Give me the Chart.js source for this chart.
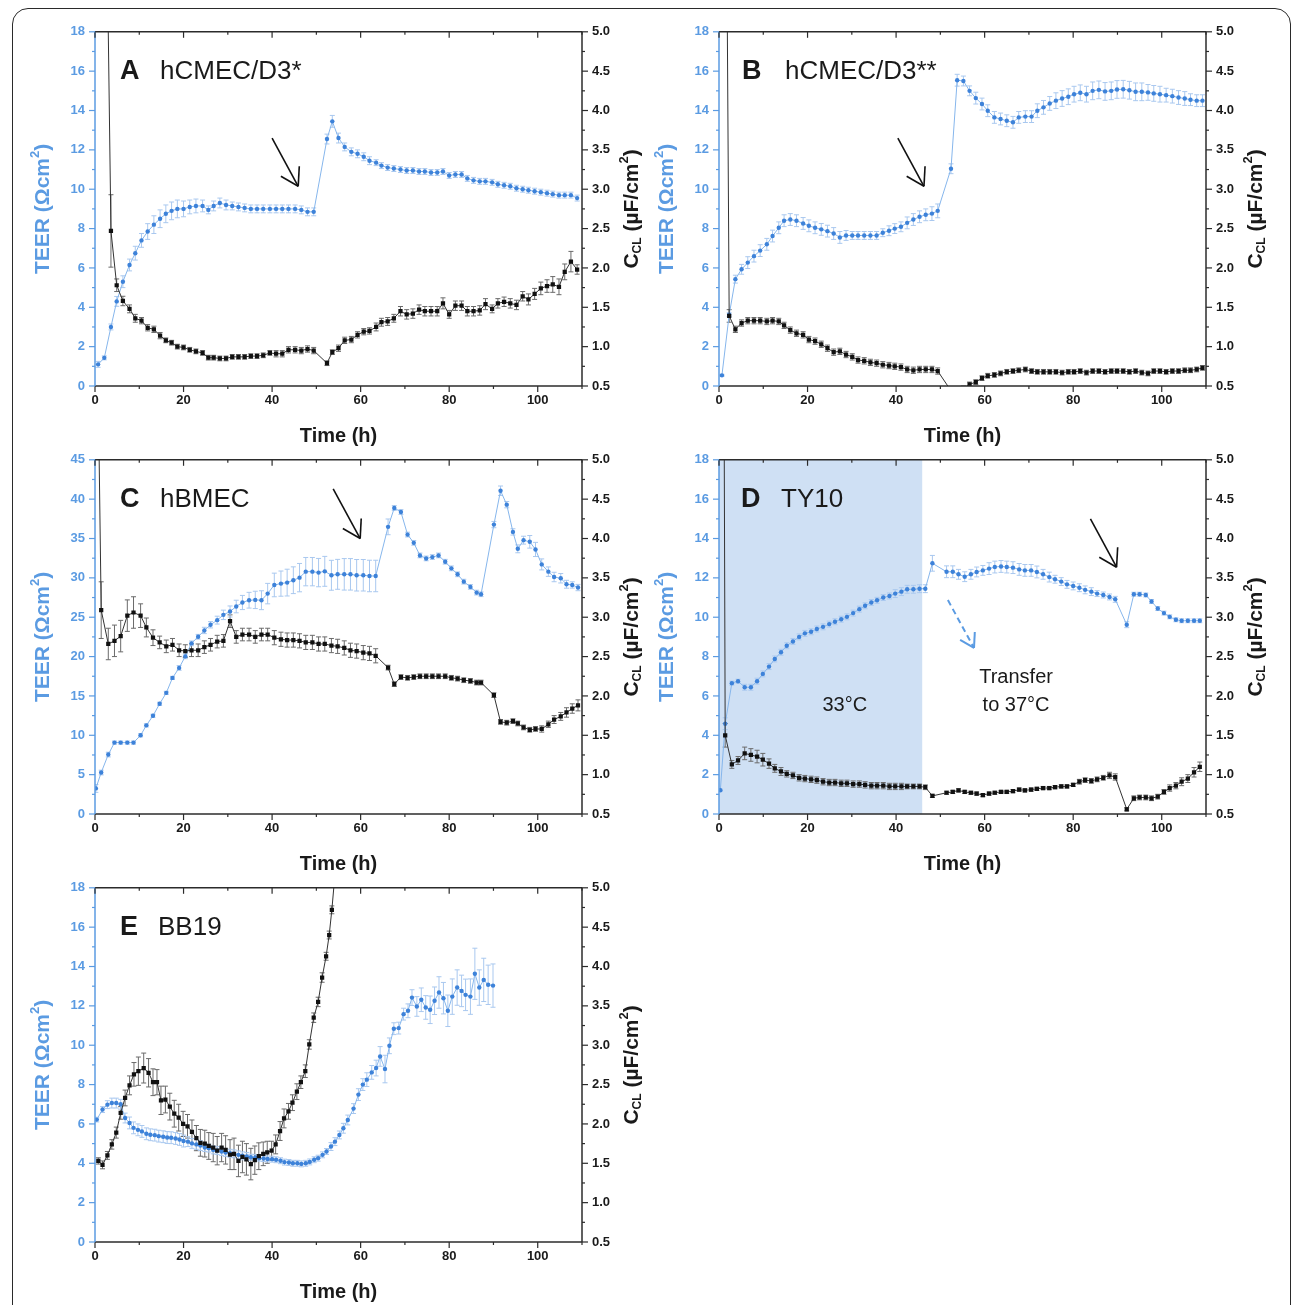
<!DOCTYPE html>
<html>
<head>
<meta charset="utf-8">
<script src="https://cdn.jsdelivr.net/npm/chart.js@4.4.1/dist/chart.umd.min.js"></script>
<style>
  html, body { margin: 0; padding: 0; background: #fff; }
  #fig { position: relative; width: 1293px; height: 1305px; overflow: hidden; background: #fff; }
  #frame { position: absolute; left: 12px; top: 8px; width: 1279px; height: 1340px;
           border: 1.6px solid #2a2a2a; border-radius: 16px; box-sizing: border-box; }
  canvas { position: absolute; }
</style>
</head>
<body>
<div id="fig">
  <div id="frame"></div>
  <canvas id="cA" width="637" height="436" style="left:15px;top:20px"></canvas>
  <canvas id="cB" width="637" height="436" style="left:639px;top:20px"></canvas>
  <canvas id="cC" width="637" height="436" style="left:15px;top:448px"></canvas>
  <canvas id="cD" width="637" height="436" style="left:639px;top:448px"></canvas>
  <canvas id="cE" width="637" height="436" style="left:15px;top:876px"></canvas>
</div>
<script>
// --- Data ---
// Panel A: hCMEC/D3*
const tA = [0.7,2.1,3.6,4.9,6.3,7.8,9.1,10.5,11.9,13.3,
  14.7,16.0,17.3,18.6,20.0,21.4,22.8,24.3,25.6,26.8,
  28.2,29.6,31.0,32.4,33.8,35.2,36.6,38.0,39.5,40.9,
  42.3,43.7,45.2,46.6,48.0,49.4,52.4,53.6,55.0,56.4,
  57.9,59.3,60.7,62.0,63.5,64.7,66.1,67.5,69.0,70.4,
  71.8,73.2,74.5,75.9,77.3,78.6,80.0,81.4,82.8,84.1,
  85.5,86.9,88.2,89.7,91.0,92.4,93.8,95.2,96.6,97.9,
  99.3,100.7,102.1,103.4,104.8,106.1,107.5,108.9];
const teerA = [1.1,1.43,3.0,4.3,5.3,6.15,6.75,7.4,7.85,8.2,
  8.5,8.75,8.9,9.0,9.0,9.1,9.15,9.15,8.95,9.15,
  9.3,9.2,9.15,9.1,9.05,9.0,9.0,9.0,9.0,9.0,
  9.0,9.0,9.0,8.95,8.85,8.85,12.55,13.45,12.6,12.15,
  11.9,11.8,11.65,11.45,11.35,11.2,11.1,11.05,11.0,10.95,
  10.95,10.9,10.9,10.85,10.85,10.9,10.7,10.75,10.75,10.55,
  10.45,10.4,10.4,10.35,10.25,10.2,10.15,10.05,10.0,9.95,
  9.9,9.85,9.8,9.75,9.7,9.7,9.7,9.55];
const teerErrA = [0.15,0.1,0.15,0.25,0.3,0.3,0.35,0.35,0.4,0.45,
  0.45,0.45,0.45,0.45,0.4,0.35,0.35,0.3,0.2,0.25,
  0.25,0.25,0.2,0.2,0.2,0.2,0.2,0.2,0.2,0.2,
  0.2,0.2,0.2,0.2,0.2,0.2,0.25,0.3,0.25,0.2,
  0.2,0.2,0.2,0.2,0.15,0.15,0.15,0.15,0.15,0.15,
  0.15,0.15,0.15,0.15,0.15,0.15,0.15,0.15,0.15,0.15,
  0.15,0.15,0.15,0.15,0.15,0.15,0.15,0.15,0.15,0.15,
  0.15,0.15,0.15,0.15,0.15,0.15,0.15,0.15];
const cclA = [25,8.8,2.47,1.78,1.58,1.48,1.36,1.33,1.24,1.22,
  1.14,1.08,1.05,1.0,0.99,0.96,0.94,0.92,0.86,0.86,
  0.85,0.85,0.87,0.87,0.87,0.88,0.88,0.89,0.92,0.91,
  0.91,0.96,0.96,0.95,0.97,0.95,0.79,0.93,0.98,1.08,
  1.09,1.15,1.19,1.2,1.25,1.31,1.32,1.36,1.45,1.41,
  1.42,1.47,1.45,1.45,1.45,1.55,1.41,1.52,1.52,1.45,
  1.45,1.46,1.54,1.48,1.55,1.57,1.55,1.53,1.64,1.6,
  1.67,1.74,1.77,1.79,1.76,1.95,2.08,1.98];
const cclErrA = [0,0,0.46,0.08,0.06,0.05,0.05,0.04,0.04,0.04,
  0.04,0.03,0.03,0.03,0.03,0.03,0.03,0.03,0.03,0.03,
  0.03,0.03,0.03,0.03,0.03,0.03,0.03,0.03,0.03,0.04,
  0.04,0.04,0.04,0.04,0.04,0.04,0.03,0.03,0.04,0.04,
  0.04,0.04,0.04,0.04,0.05,0.05,0.05,0.05,0.06,0.06,
  0.06,0.06,0.06,0.06,0.06,0.07,0.05,0.06,0.06,0.06,
  0.06,0.06,0.07,0.05,0.06,0.06,0.06,0.06,0.06,0.07,
  0.07,0.08,0.08,0.1,0.1,0.1,0.13,0.06];

// Panel B: hCMEC/D3**
const tB = [0.66,2.3,3.7,5.1,6.5,7.9,9.3,10.8,12.1,13.5,
  14.7,16.1,17.5,19.0,20.3,21.7,23.1,24.5,25.9,27.3,
  28.7,30.1,31.4,32.8,34.2,35.6,37.0,38.4,39.7,41.1,
  42.5,43.9,45.3,46.7,48.1,49.4,52.4,53.8,55.2,56.6,
  58.0,59.4,60.7,62.2,63.6,65.0,66.4,67.7,69.2,70.6,
  71.9,73.3,74.7,76.1,77.5,78.9,80.2,81.6,83.0,84.4,
  85.8,87.2,88.6,89.9,91.3,92.7,94.1,95.5,96.9,98.2,
  99.6,101.0,102.4,103.8,105.2,106.5,107.9,109.2];
const teerB = [0.54,3.62,5.43,5.93,6.27,6.6,6.88,7.2,7.62,8.04,
  8.4,8.46,8.4,8.26,8.14,8.04,7.96,7.87,7.75,7.55,
  7.65,7.65,7.65,7.65,7.65,7.65,7.79,7.89,8.0,8.09,
  8.29,8.46,8.6,8.7,8.76,8.9,11.04,15.54,15.5,15.0,
  14.63,14.33,13.99,13.65,13.57,13.48,13.4,13.65,13.69,13.69,
  13.99,14.16,14.36,14.5,14.61,14.7,14.83,14.9,14.83,15.0,
  15.05,14.97,15.0,15.07,15.08,15.03,14.95,14.95,14.92,14.87,
  14.83,14.78,14.73,14.66,14.61,14.55,14.5,14.5];
const teerErrB = [0.05,0.1,0.2,0.25,0.3,0.3,0.3,0.3,0.3,0.3,
  0.3,0.3,0.3,0.3,0.3,0.3,0.3,0.3,0.3,0.3,
  0.25,0.2,0.2,0.2,0.2,0.2,0.2,0.25,0.25,0.25,
  0.3,0.3,0.3,0.3,0.35,0.35,0.25,0.3,0.25,0.25,
  0.3,0.3,0.3,0.3,0.3,0.3,0.3,0.3,0.3,0.3,
  0.35,0.35,0.35,0.4,0.4,0.4,0.4,0.4,0.4,0.45,
  0.45,0.45,0.45,0.45,0.45,0.45,0.45,0.45,0.4,0.4,
  0.4,0.35,0.35,0.35,0.35,0.3,0.3,0.3];
const cclB = [15.8,1.39,1.22,1.30,1.33,1.33,1.33,1.32,1.33,1.32,
  1.27,1.21,1.17,1.15,1.09,1.07,1.03,0.98,0.93,0.94,
  0.9,0.87,0.83,0.82,0.8,0.79,0.77,0.76,0.75,0.74,
  0.71,0.70,0.71,0.71,0.71,0.69,0.44,0.42,0.47,0.52,
  0.55,0.6,0.63,0.64,0.66,0.68,0.69,0.7,0.71,0.69,
  0.68,0.68,0.68,0.68,0.67,0.68,0.68,0.69,0.67,0.69,
  0.69,0.68,0.69,0.69,0.69,0.68,0.69,0.67,0.66,0.69,
  0.69,0.68,0.69,0.69,0.7,0.7,0.71,0.73];
const cclErrB = [0,0.08,0.04,0.04,0.04,0.04,0.04,0.04,0.04,0.04,
  0.04,0.04,0.04,0.04,0.04,0.04,0.04,0.04,0.04,0.04,
  0.04,0.04,0.04,0.04,0.04,0.04,0.04,0.04,0.04,0.04,
  0.04,0.04,0.04,0.04,0.04,0.04,0.03,0.03,0.03,0.03,
  0.03,0.03,0.03,0.03,0.03,0.03,0.03,0.03,0.03,0.03,
  0.03,0.03,0.03,0.03,0.03,0.03,0.03,0.03,0.03,0.03,
  0.03,0.03,0.03,0.03,0.03,0.03,0.03,0.03,0.03,0.03,
  0.03,0.03,0.03,0.03,0.03,0.03,0.03,0.03];

// Panel C: hBMEC
const tC = [0.2,1.4,3.0,4.4,5.8,7.3,8.7,10.3,11.6,13.1,
  14.6,16.1,17.5,19.0,20.4,21.8,23.3,24.7,26.1,27.6,
  29.0,30.5,31.9,33.3,34.8,36.2,37.6,39.0,40.5,42.0,
  43.4,44.8,46.2,47.6,49.1,50.5,51.9,53.4,54.8,56.3,
  57.7,59.1,60.6,62.0,63.4,66.2,67.6,69.1,70.6,72.0,
  73.4,74.8,76.2,77.6,79.1,80.5,81.9,83.3,84.8,86.2,
  87.2,90.1,91.6,93.0,94.4,95.5,96.8,98.2,99.5,100.9,
  102.4,103.7,105.2,106.5,107.8,109.1];
const teerC = [3.25,5.27,7.55,9.07,9.07,9.07,9.07,10.0,11.26,12.48,
  14.0,15.39,17.29,18.56,20.03,21.68,22.52,23.32,24.04,24.63,
  25.3,25.73,26.36,26.87,27.16,27.2,27.16,28.0,29.1,29.27,
  29.4,29.7,30.03,30.79,30.79,30.67,30.83,30.33,30.45,30.45,
  30.45,30.33,30.33,30.24,30.24,36.48,38.88,38.37,35.5,34.45,
  32.85,32.47,32.64,32.85,32.05,31.21,30.45,29.52,28.85,28.13,
  27.92,36.77,41.07,39.3,35.84,33.69,34.79,34.58,33.61,31.71,
  30.79,30.11,29.95,29.19,29.1,28.77];
const teerErrC = [0.5,0.3,0.3,0.2,0.2,0.2,0.2,0.2,0.2,0.2,
  0.2,0.2,0.2,0.3,0.3,0.3,0.3,0.4,0.4,0.5,
  0.6,0.7,0.8,0.9,1.0,1.1,1.2,1.3,1.5,1.6,
  1.7,1.7,1.8,1.8,1.8,1.8,1.9,1.9,1.9,2.0,
  2.0,2.0,2.0,2.0,2.0,1.0,0.3,0.3,0.3,0.3,
  0.3,0.3,0.3,0.3,0.3,0.3,0.3,0.3,0.3,0.3,
  0.3,0.4,0.6,0.4,0.4,0.5,0.5,0.8,0.9,0.7,
  0.6,0.6,0.6,0.5,0.4,0.4];
const cclC = [8.1,3.09,2.66,2.7,2.76,3.02,3.06,3.02,2.87,2.74,
  2.68,2.63,2.65,2.58,2.57,2.58,2.58,2.62,2.65,2.69,
  2.70,2.95,2.75,2.78,2.78,2.75,2.78,2.78,2.74,2.72,
  2.71,2.71,2.70,2.68,2.68,2.66,2.66,2.64,2.63,2.61,
  2.58,2.57,2.55,2.54,2.51,2.36,2.15,2.24,2.23,2.24,
  2.25,2.25,2.25,2.25,2.25,2.23,2.22,2.2,2.19,2.17,
  2.17,2.01,1.67,1.66,1.68,1.65,1.6,1.57,1.58,1.58,
  1.64,1.7,1.74,1.79,1.84,1.88];
const cclErrC = [0,0.36,0.2,0.2,0.2,0.2,0.2,0.15,0.12,0.1,
  0.08,0.08,0.08,0.08,0.08,0.08,0.08,0.08,0.08,0.08,
  0.08,0.08,0.08,0.08,0.08,0.08,0.08,0.08,0.09,0.09,
  0.09,0.09,0.09,0.09,0.09,0.09,0.09,0.09,0.09,0.09,
  0.09,0.09,0.09,0.09,0.09,0.03,0.03,0.03,0.03,0.03,
  0.03,0.03,0.03,0.03,0.03,0.03,0.03,0.03,0.03,0.03,
  0.03,0.03,0.03,0.03,0.03,0.03,0.03,0.03,0.03,0.04,
  0.04,0.05,0.05,0.06,0.06,0.07];

// Panel D: TY10
const tD = [0.3,1.4,2.9,4.3,5.8,7.2,8.6,9.9,11.3,12.6,
  14.0,15.3,16.7,18.1,19.4,20.8,22.1,23.5,24.9,26.2,
  27.6,28.9,30.3,31.7,33.0,34.4,35.7,37.1,38.5,39.8,
  41.2,42.5,43.9,45.3,46.6,48.2,51.4,52.8,54.1,55.5,
  56.9,58.2,59.6,61.0,62.3,63.7,65.0,66.4,67.8,69.1,
  70.5,71.8,73.2,74.6,75.9,77.3,78.6,80.0,81.4,82.7,
  84.1,85.4,86.8,88.2,89.5,92.1,93.7,95.0,96.4,97.7,
  99.1,100.5,101.8,103.2,104.5,105.9,107.3,108.6];
const teerD = [1.21,4.59,6.65,6.75,6.44,6.44,6.75,7.12,7.49,7.88,
  8.22,8.55,8.77,9.0,9.18,9.26,9.4,9.51,9.65,9.77,
  9.9,10.02,10.21,10.41,10.58,10.75,10.86,11.0,11.08,11.2,
  11.3,11.42,11.42,11.45,11.45,12.74,12.31,12.31,12.18,12.06,
  12.18,12.3,12.38,12.47,12.55,12.58,12.55,12.52,12.43,12.38,
  12.38,12.3,12.18,12.04,11.93,11.81,11.67,11.59,11.5,11.39,
  11.3,11.2,11.13,11.03,10.91,9.62,11.17,11.17,11.13,10.8,
  10.44,10.21,10.02,9.87,9.82,9.82,9.82,9.82];
const teerErrD = [0.05,0.3,0.1,0.1,0.15,0.15,0.15,0.15,0.15,0.15,
  0.15,0.15,0.15,0.15,0.15,0.15,0.15,0.15,0.15,0.15,
  0.15,0.15,0.15,0.15,0.15,0.15,0.15,0.15,0.15,0.2,
  0.2,0.2,0.2,0.2,0.2,0.4,0.3,0.3,0.25,0.25,
  0.25,0.25,0.25,0.3,0.3,0.3,0.3,0.3,0.3,0.3,
  0.3,0.3,0.25,0.25,0.2,0.2,0.2,0.2,0.2,0.2,
  0.2,0.15,0.15,0.15,0.15,0.15,0.1,0.1,0.1,0.1,
  0.1,0.1,0.1,0.1,0.1,0.1,0.1,0.1];
const cclD = [20,1.5,1.13,1.18,1.27,1.25,1.23,1.19,1.14,1.08,
  1.04,1.01,0.99,0.96,0.95,0.94,0.93,0.91,0.9,0.9,
  0.89,0.89,0.88,0.88,0.87,0.86,0.86,0.86,0.85,0.85,
  0.85,0.85,0.85,0.85,0.84,0.73,0.77,0.78,0.8,0.78,
  0.77,0.76,0.74,0.76,0.77,0.78,0.78,0.79,0.81,0.8,
  0.81,0.82,0.83,0.83,0.84,0.85,0.85,0.87,0.91,0.93,
  0.92,0.94,0.96,0.99,0.97,0.56,0.7,0.71,0.71,0.7,
  0.72,0.78,0.83,0.86,0.91,0.95,1.03,1.1];
const cclErrD = [0,0.15,0.05,0.05,0.08,0.08,0.08,0.08,0.06,0.05,
  0.05,0.04,0.04,0.04,0.04,0.04,0.04,0.04,0.04,0.04,
  0.04,0.04,0.04,0.04,0.04,0.04,0.04,0.04,0.04,0.04,
  0.04,0.03,0.03,0.03,0.03,0.02,0.02,0.02,0.02,0.02,
  0.02,0.02,0.02,0.02,0.02,0.02,0.02,0.02,0.02,0.02,
  0.02,0.02,0.02,0.02,0.02,0.02,0.02,0.02,0.03,0.03,
  0.03,0.03,0.03,0.04,0.04,0.02,0.03,0.03,0.03,0.03,
  0.03,0.03,0.04,0.04,0.05,0.05,0.06,0.06];

// Panel E: BB19
const tE = [0.4,1.7,2.8,3.8,4.8,5.8,6.8,7.8,8.7,9.7,
  10.6,11.6,12.5,13.5,14.4,15.4,16.3,17.2,18.2,19.1,
  20.0,21.0,21.9,22.9,23.8,24.8,25.7,26.7,27.6,28.6,
  29.5,30.5,31.4,32.4,33.3,34.3,35.2,36.2,37.1,38.1,
  39.0,40.0,40.9,41.9,42.8,43.8,44.7,45.7,46.6,47.6,
  48.5,49.5,50.4,51.4,52.3,53.3,54.2,55.2,56.1,57.1,
  58.4,59.5,60.5,61.4,62.5,63.5,64.4,65.5,66.5,67.5,
  68.6,69.7,70.7,71.6,72.7,73.7,74.7,75.7,76.7,77.7,
  78.7,79.7,80.7,81.8,82.8,83.7,84.8,85.8,86.8,87.8,
  88.8,89.9];
const teerE = [6.22,6.73,6.98,7.06,7.06,7.0,6.3,6.05,5.8,5.7,
  5.62,5.5,5.45,5.43,5.38,5.35,5.31,5.3,5.26,5.21,
  5.13,5.1,5.01,4.96,4.9,4.8,4.77,4.68,4.65,4.6,
  4.55,4.51,4.48,4.43,4.38,4.35,4.31,4.3,4.26,4.24,
  4.22,4.21,4.18,4.13,4.06,4.04,4.0,4.0,3.97,4.0,
  4.07,4.18,4.26,4.43,4.6,4.85,5.1,5.44,5.78,6.2,
  6.78,7.49,8.0,8.25,8.62,8.84,9.43,8.79,9.97,10.84,
  10.87,11.58,11.75,12.42,11.97,12.31,11.92,11.8,12.26,12.68,
  12.39,11.75,12.47,12.93,12.76,12.56,12.47,13.63,12.93,13.32,
  13.07,13.03];
const teerErrE = [0.12,0.15,0.2,0.25,0.25,0.25,0.25,0.3,0.3,0.3,
  0.3,0.3,0.3,0.3,0.3,0.3,0.3,0.3,0.3,0.3,
  0.3,0.25,0.25,0.25,0.25,0.2,0.2,0.2,0.2,0.2,
  0.2,0.2,0.2,0.2,0.2,0.2,0.15,0.15,0.15,0.15,
  0.15,0.15,0.15,0.15,0.15,0.15,0.15,0.15,0.15,0.15,
  0.15,0.15,0.15,0.15,0.15,0.2,0.2,0.2,0.25,0.25,
  0.25,0.3,0.3,0.35,0.35,0.4,0.5,0.7,0.4,0.3,
  0.3,0.3,0.35,0.4,0.5,0.6,0.6,0.7,0.7,0.8,
  0.8,0.8,0.9,0.9,0.8,0.8,0.9,1.3,0.9,1.1,
  1.0,1.1];
const tEc = [0.75,1.7,2.8,3.8,4.8,5.8,6.8,7.8,8.8,9.8,
  11.0,12.1,13.1,14.0,14.9,15.9,16.9,17.9,18.9,19.9,
  20.9,21.9,22.9,23.8,24.8,25.7,26.7,27.6,28.6,29.5,
  30.5,31.4,32.4,33.3,34.2,35.2,36.1,37.0,38.0,38.9,
  39.9,40.8,41.8,42.7,43.7,44.6,45.6,46.5,47.5,48.4,
  49.4,50.4,51.3,52.2,52.9,53.5,54.4];
const cclE = [1.53,1.48,1.6,1.74,1.89,2.14,2.33,2.49,2.63,2.67,
  2.71,2.65,2.53,2.53,2.30,2.31,2.22,2.13,2.08,2.0,
  1.97,1.9,1.82,1.76,1.75,1.72,1.7,1.66,1.7,1.67,
  1.61,1.62,1.53,1.58,1.55,1.49,1.54,1.59,1.62,1.64,
  1.66,1.74,1.91,2.07,2.16,2.27,2.41,2.53,2.67,3.01,
  3.35,3.55,3.86,4.13,4.4,4.72,5.3];
const cclErrE = [0.04,0.05,0.05,0.06,0.07,0.08,0.1,0.12,0.15,0.18,
  0.19,0.18,0.17,0.16,0.18,0.17,0.17,0.17,0.17,0.16,
  0.15,0.15,0.16,0.17,0.17,0.17,0.18,0.18,0.18,0.18,
  0.19,0.2,0.2,0.2,0.2,0.2,0.18,0.17,0.15,0.14,
  0.12,0.12,0.12,0.12,0.1,0.1,0.1,0.08,0.08,0.06,
  0.06,0.06,0.06,0.05,0.05,0.05,0.05];

// --- Styling ---
const FONT = "'Liberation Sans', Arial, sans-serif";
const BLUE_TXT = '#5b9be2';
const BLUE_PT = '#3d82d9';
const BLUE_LINE = '#86b6ec';
const BLUE_ERR = '#a9c8ef';
const INK = '#1a1a1a';

function series(ts, vs) { return ts.map((t, i) => ({ x: t, y: vs[i] })); }

function line(ctx, x1, y1, x2, y2) {
  ctx.beginPath(); ctx.moveTo(x1, y1); ctx.lineTo(x2, y2); ctx.stroke();
}

// text made of pieces (sub/superscripts), centred on (cx, cy)
function drawRich(ctx, parts, cx, cy, angle, color) {
  ctx.save();
  ctx.translate(cx, cy);
  ctx.rotate(angle);
  ctx.fillStyle = color;
  ctx.textBaseline = 'middle';
  ctx.textAlign = 'left';
  let w = 0;
  parts.forEach(p => { ctx.font = p.f; p.w = ctx.measureText(p.t).width; w += p.w; });
  let px = -w / 2;
  parts.forEach(p => { ctx.font = p.f; ctx.fillText(p.t, px, p.dy || 0); px += p.w; });
  ctx.restore();
}

const decor = {
  id: 'decor',
  beforeDatasetsDraw(chart, args, o) {
    const { ctx, chartArea: a, scales } = chart;
    ctx.save();
    if (o.shade) {
      const x0 = scales.x.getPixelForValue(o.shade[0]);
      const x1 = scales.x.getPixelForValue(o.shade[1]);
      ctx.fillStyle = '#cfe0f4';
      ctx.fillRect(x0, a.top, x1 - x0, a.bottom - a.top);
    }
    // error bars
    ctx.beginPath();
    ctx.rect(a.left, a.top, a.right - a.left, a.bottom - a.top);
    ctx.clip();
    chart.data.datasets.forEach((ds, i) => {
      const meta = chart.getDatasetMeta(i);
      const ys = scales[ds.yAxisID];
      ctx.strokeStyle = ds.errColor;
      ctx.lineWidth = 1;
      ctx.beginPath();
      meta.data.forEach((pt, j) => {
        const e = ds.errors[j];
        if (!e) return;
        const v = ds.data[j].y;
        const yt = ys.getPixelForValue(v + e), yb = ys.getPixelForValue(v - e);
        ctx.moveTo(pt.x, yt); ctx.lineTo(pt.x, yb);
        ctx.moveTo(pt.x - 2.5, yt); ctx.lineTo(pt.x + 2.5, yt);
        ctx.moveTo(pt.x - 2.5, yb); ctx.lineTo(pt.x + 2.5, yb);
      });
      ctx.stroke();
    });
    ctx.restore();
  },
  afterDraw(chart, args, o) {
    const { ctx, chartArea: a, scales: { x, y, y1 } } = chart;
    ctx.save();
    ctx.lineWidth = 1.5;

    // box + axes
    ctx.strokeStyle = '#2b2b2b';
    line(ctx, a.left, a.top, a.right, a.top);
    line(ctx, a.right, a.top, a.right, a.bottom);
    line(ctx, a.left, a.bottom, a.right, a.bottom);
    ctx.strokeStyle = BLUE_TXT;
    line(ctx, a.left, a.top, a.left, a.bottom);

    // x ticks (bottom outward, top inward)
    ctx.strokeStyle = '#2b2b2b';
    ctx.lineWidth = 1.2;
    for (let k = 0; k <= 11; k++) {
      const px = x.getPixelForValue(k * 10);
      const len = k % 2 === 0 ? 6 : 3;
      line(ctx, px, a.bottom, px, a.bottom + len);
      line(ctx, px, a.top, px, a.top + len);
    }
    // right ticks
    for (let k = 0; k <= 18; k++) {
      const py = y1.getPixelForValue(0.5 + k * 0.25);
      const len = k % 2 === 0 ? 6 : 3;
      line(ctx, a.right, py, a.right + len, py);
    }
    // left ticks
    ctx.strokeStyle = BLUE_TXT;
    const n = Math.round(o.yMax / (o.yStep / 2));
    for (let k = 0; k <= n; k++) {
      const py = y.getPixelForValue(k * o.yStep / 2);
      const len = k % 2 === 0 ? 6 : 3;
      line(ctx, a.left - len, py, a.left, py);
    }

    // axis titles
    const midY = (a.top + a.bottom) / 2;
    drawRich(ctx, [
      { t: 'TEER (\u03A9cm', f: `bold 21px ${FONT}` },
      { t: '2', f: `bold 13px ${FONT}`, dy: -8 },
      { t: ')', f: `bold 21px ${FONT}` }
    ], a.left - 52, midY, -Math.PI / 2, BLUE_TXT);
    drawRich(ctx, [
      { t: 'C', f: `bold 21px ${FONT}` },
      { t: 'CL', f: `bold 12px ${FONT}`, dy: 6 },
      { t: ' (\u00B5F/cm', f: `bold 21px ${FONT}` },
      { t: '2', f: `bold 13px ${FONT}`, dy: -8 },
      { t: ')', f: `bold 21px ${FONT}` }
    ], a.right + 50, midY, -Math.PI / 2, INK);
    drawRich(ctx, [{ t: 'Time (h)', f: `bold 20px ${FONT}` }],
      (a.left + a.right) / 2, a.bottom + 50, 0, INK);

    // panel label
    ctx.fillStyle = INK;
    ctx.textBaseline = 'alphabetic';
    ctx.textAlign = 'left';
    ctx.font = `bold 27px ${FONT}`;
    ctx.fillText(o.letter, a.left + o.lx[0], a.top + 47);
    ctx.font = `26px ${FONT}`;
    ctx.fillText(o.name, a.left + o.lx[1], a.top + 47);

    // arrows
    (o.arrows || []).forEach(ar => {
      const x1p = x.getPixelForValue(ar.from[0]), y1p = y.getPixelForValue(ar.from[1]);
      const x2p = x.getPixelForValue(ar.to[0]), y2p = y.getPixelForValue(ar.to[1]);
      ctx.strokeStyle = ar.color;
      ctx.lineWidth = ar.width || 1.6;
      ctx.setLineDash(ar.dash || []);
      line(ctx, x1p, y1p, x2p, y2p);
      ctx.setLineDash([]);
      const ang = Math.atan2(y1p - y2p, x1p - x2p);
      [-1, 1].forEach(s => {
        const h = ang + s * 0.55;
        line(ctx, x2p, y2p, x2p + ar.head * Math.cos(h), y2p + ar.head * Math.sin(h));
      });
    });

    // free texts
    (o.texts || []).forEach(tx => {
      ctx.fillStyle = INK;
      ctx.font = `20px ${FONT}`;
      ctx.textAlign = 'center';
      ctx.textBaseline = 'middle';
      ctx.fillText(tx.t, x.getPixelForValue(tx.at[0]), y.getPixelForValue(tx.at[1]));
    });
    ctx.restore();
  }
};

function makePanel(p) {
  const tickFont = { family: FONT, size: 13, weight: 'bold' };
  return new Chart(document.getElementById(p.id), {
    type: 'line',
    data: {
      datasets: [
        {
          data: series(p.tc, p.ccl), yAxisID: 'y1', order: 0,
          errors: p.cclErr, errColor: '#6a6a6a',
          borderColor: '#333', borderWidth: 1,
          pointStyle: 'rect', pointRadius: 3, pointHoverRadius: 3,
          pointBackgroundColor: '#111', pointBorderColor: '#111', pointBorderWidth: 0
        },
        {
          data: series(p.t, p.teer), yAxisID: 'y', order: 1,
          errors: p.teerErr, errColor: BLUE_ERR,
          borderColor: BLUE_LINE, borderWidth: 1,
          pointStyle: 'circle', pointRadius: 2.2, pointHoverRadius: 2.2,
          pointBackgroundColor: BLUE_PT, pointBorderColor: BLUE_PT, pointBorderWidth: 0
        }
      ]
    },
    options: {
      responsive: false,
      animation: false,
      devicePixelRatio: 1,
      events: [],
      layout: { padding: { top: 10, left: 0, right: 0, bottom: 0 } },
      plugins: {
        legend: { display: false },
        tooltip: { enabled: false },
        decor: p.decor
      },
      scales: {
        x: {
          type: 'linear', min: 0, max: 110,
          afterFit: s => { s.height = 70; },
          grid: { display: false, drawTicks: true, tickLength: 6 },
          border: { display: false },
          ticks: { stepSize: 20, includeBounds: false, padding: 1, maxRotation: 0,
                   color: INK, font: tickFont }
        },
        y: {
          position: 'left', min: 0, max: p.decor.yMax,
          afterFit: s => { s.width = 80; },
          grid: { display: false, drawTicks: true, tickLength: 6 },
          border: { display: false },
          ticks: { stepSize: p.decor.yStep, padding: 4, color: BLUE_TXT, font: tickFont }
        },
        y1: {
          position: 'right', min: 0.5, max: 5.0,
          afterFit: s => { s.width = 70; },
          grid: { display: false, drawTicks: true, tickLength: 6 },
          border: { display: false },
          ticks: { stepSize: 0.5, padding: 4, color: INK, font: tickFont,
                   callback: v => Number(v).toFixed(1) }
        }
      }
    },
    plugins: [decor]
  });
}

const blackArrow = { color: '#111', head: 20 };

makePanel({ id: 'cA', t: tA, teer: teerA, teerErr: teerErrA, tc: tA, ccl: cclA, cclErr: cclErrA,
  decor: { yMax: 18, yStep: 2, letter: 'A', name: 'hCMEC/D3*', lx: [25, 65],
    arrows: [{ ...blackArrow, from: [40.0, 12.6], to: [45.9, 10.15] }] } });

makePanel({ id: 'cB', t: tB, teer: teerB, teerErr: teerErrB, tc: tB, ccl: cclB, cclErr: cclErrB,
  decor: { yMax: 18, yStep: 2, letter: 'B', name: 'hCMEC/D3**', lx: [23, 66],
    arrows: [{ ...blackArrow, from: [40.4, 12.6], to: [46.3, 10.15] }] } });

makePanel({ id: 'cC', t: tC, teer: teerC, teerErr: teerErrC, tc: tC, ccl: cclC, cclErr: cclErrC,
  decor: { yMax: 45, yStep: 5, letter: 'C', name: 'hBMEC', lx: [25, 65],
    arrows: [{ ...blackArrow, from: [53.8, 41.3], to: [59.9, 35.0] }] } });

makePanel({ id: 'cD', t: tD, teer: teerD, teerErr: teerErrD, tc: tD, ccl: cclD, cclErr: cclErrD,
  decor: { yMax: 18, yStep: 2, letter: 'D', name: 'TY10', lx: [22, 62], shade: [0, 45.9],
    arrows: [
      { ...blackArrow, from: [83.9, 15.0], to: [89.8, 12.54] },
      { color: '#5b9be2', head: 16, width: 2, dash: [6, 4], from: [51.7, 10.87], to: [57.6, 8.44] }
    ],
    texts: [
      { t: '33\u00B0C', at: [28.4, 5.5] },
      { t: 'Transfer', at: [67.1, 6.93] },
      { t: 'to 37\u00B0C', at: [67.1, 5.5] }
    ] } });

makePanel({ id: 'cE', t: tE, teer: teerE, teerErr: teerErrE, tc: tEc, ccl: cclE, cclErr: cclErrE,
  decor: { yMax: 18, yStep: 2, letter: 'E', name: 'BB19', lx: [25, 63] } });
</script>
</body>
</html>
